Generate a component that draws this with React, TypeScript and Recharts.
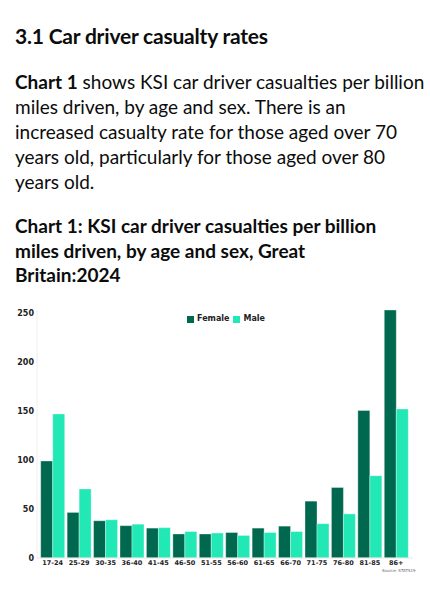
import React from 'react';
import { BarChart, Bar, XAxis, YAxis } from 'recharts';

const ageGroups = ['17-24', '25-29', '30-35', '36-40', '41-45', '46-50', '51-55', '56-60', '61-65', '66-70', '71-75', '76-80', '81-85', '86+'];
const femaleRates = [99, 46.5, 38, 33, 30.5, 24.5, 24.5, 26, 30.5, 32.5, 58, 72, 150.5, 253];
const maleRates = [147, 70.5, 39, 34.5, 31, 27, 25.5, 23, 26, 27, 35, 45, 84, 152];
const yTicks = [0, 50, 100, 150, 200, 250];

const data = ageGroups.map((age, i) => ({ age, Female: femaleRates[i], Male: maleRates[i] }));

const FEMALE = '#00684f';
const MALE = '#22e8b6';
const headFont = 'Lato, "Noto Sans", Arial, sans-serif';
const chartFont = '"DejaVu Sans", Verdana, sans-serif';

const textLine = (top: number, content: React.ReactNode, size: number, weight: number, lh: number, ls = 0) => (
  <div style={{ position: 'absolute', left: 15, top, fontFamily: headFont, fontSize: size, fontWeight: weight, lineHeight: `${lh}px`, letterSpacing: ls, color: '#0b0c0c', whiteSpace: 'nowrap' }}>{content}</div>
);

export default function App() {
  return (
    <div style={{ position: 'absolute', left: 0, top: 0, width: 430, height: 600, background: '#fff', overflow: 'hidden' }}>
      {textLine(21, '3.1 Car driver casualty rates', 21, 700, 30, -0.2)}
      {textLine(69, <><b>Chart 1</b> shows KSI car driver casualties per billion</>, 19, 400, 25)}
      {textLine(94, 'miles driven, by age and sex. There is an', 19, 400, 25)}
      {textLine(119, 'increased casualty rate for those aged over 70', 19, 400, 25)}
      {textLine(144, 'years old, particularly for those aged over 80', 19, 400, 25)}
      {textLine(169, 'years old.', 19, 400, 25)}
      {textLine(213, 'Chart 1: KSI car driver casualties per billion', 19, 700, 25)}
      {textLine(237.5, 'miles driven, by age and sex, Great', 19, 700, 25)}
      {textLine(262, 'Britain:2024', 19, 700, 25)}
      <div style={{ position: 'absolute', left: 0, top: 300 }}>
        <BarChart width={430} height={280} data={data} margin={{ top: 10, right: 17, bottom: 2, left: 0 }} barCategoryGap={1.2} barGap={0}>
          <XAxis dataKey="age" interval={0} height={20} padding={{ left: 2.5, right: 3.5 }} tickLine={false} tickSize={0} tickMargin={2} axisLine={{ stroke: '#e6e6e6' }} tick={{ fontFamily: chartFont, fontSize: 6.5, fontWeight: 700, fill: '#222' }} />
          <YAxis width={37} domain={[0, 253]} ticks={yTicks} tickLine={false} tickSize={0} tickMargin={3} axisLine={{ stroke: '#eeeeee' }} tick={{ fontFamily: chartFont, fontSize: 8, fontWeight: 700, fill: '#222' }} />
          <Bar dataKey="Female" fill={FEMALE} stroke="rgba(255,255,255,0.35)" strokeWidth={1} isAnimationActive={false} />
          <Bar dataKey="Male" fill={MALE} stroke="rgba(255,255,255,0.35)" strokeWidth={1} isAnimationActive={false} />
        </BarChart>
      </div>
      <div style={{ position: 'absolute', left: 0, top: 314, width: 452, display: 'flex', justifyContent: 'center', alignItems: 'center', fontFamily: chartFont, fontSize: 8, fontWeight: 700, color: '#222', lineHeight: '10px' }}>
        <span style={{ display: 'inline-block', width: 7, height: 7, background: FEMALE, marginRight: 3 }} />
        <span style={{ marginRight: 4 }}>Female</span>
        <span style={{ display: 'inline-block', width: 7, height: 7, background: MALE, marginRight: 3 }} />
        <span>Male</span>
      </div>
      <div style={{ position: 'absolute', left: 382, top: 568, fontFamily: chartFont, fontSize: 4, color: '#666', whiteSpace: 'nowrap' }}>Source: STATS19</div>
    </div>
  );
}
